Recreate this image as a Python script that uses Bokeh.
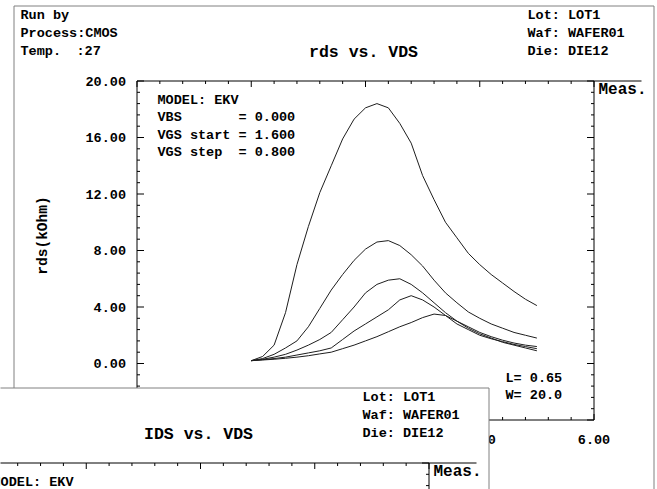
import math
import numpy as np
from bokeh.plotting import figure
from bokeh.models import Range1d
from bokeh.core.properties import value
from bokeh.embed import file_html
from bokeh.resources import INLINE

# ---------------- data ----------------
vds = [1.50, 1.65, 1.80, 1.95, 2.10, 2.25, 2.40, 2.55, 2.70, 2.85, 3.00, 3.15, 3.30,
       3.45, 3.60, 3.75, 3.90, 4.05, 4.20, 4.35, 4.50, 4.65, 4.80, 4.95, 5.10, 5.25]
rds_vgs_1p6 = [0.2, 0.5, 1.3, 3.6, 7.0, 9.7, 12.1, 14.0, 15.9, 17.3, 18.1, 18.4, 18.1,
               17.0, 15.6, 13.3, 11.6, 10.0, 8.9, 7.8, 7.0, 6.3, 5.7, 5.1, 4.55, 4.1]
rds_vgs_2p4 = [0.2, 0.35, 0.65, 1.1, 1.6, 2.6, 3.9, 5.2, 6.3, 7.3, 8.1, 8.6, 8.7,
               8.35, 7.7, 6.9, 5.9, 5.0, 4.3, 3.65, 3.2, 2.8, 2.5, 2.2, 2.0, 1.8]
rds_vgs_3p2 = [0.2, 0.3, 0.45, 0.65, 0.95, 1.3, 1.7, 2.2, 3.1, 4.0, 5.0, 5.6, 5.9,
               6.0, 5.6, 5.0, 4.3, 3.6, 3.0, 2.6, 2.2, 1.9, 1.65, 1.45, 1.3, 1.2]
rds_vgs_4p0 = [0.2, 0.27, 0.35, 0.45, 0.6, 0.75, 0.9, 1.1, 1.7, 2.3, 2.8, 3.3, 3.8,
               4.5, 4.8, 4.5, 4.0, 3.4, 2.8, 2.4, 2.0, 1.75, 1.55, 1.35, 1.2, 1.05]
rds_vgs_4p8 = [0.2, 0.25, 0.3, 0.37, 0.45, 0.55, 0.68, 0.8, 1.05, 1.3, 1.6, 1.9, 2.25,
               2.6, 2.9, 3.25, 3.5, 3.4, 3.0, 2.5, 2.1, 1.8, 1.5, 1.3, 1.1, 0.9]
series = [rds_vgs_1p6, rds_vgs_2p4, rds_vgs_3p2, rds_vgs_4p0, rds_vgs_4p8]

x_range = (0.0, 6.0)
y_range = (-4.0, 20.0)
x_tick_values = [0.0, 1.5, 3.0, 4.5, 6.0]
x_tick_labels = ["0.00", "1.50", "3.00", "4.50", "6.00"]
y_tick_values = [-4.0, 0.0, 4.0, 8.0, 12.0, 16.0, 20.0]
y_tick_labels = ["-4.00", "0.00", "4.00", "8.00", "12.00", "16.00", "20.00"]
minor_per_major = 5

header_left = ["Run by", "Process:CMOS"]
temp_label, temp_value = "Temp.", ":27"
header_right = ["Lot: LOT1", "Waf: WAFER01", "Die: DIE12"]
title_main = "rds vs. VDS"
title_second = "IDS vs. VDS"
y_label = "rds(kOhm)"
model_rows = [("MODEL: EKV", ""), ("VBS", "= 0.000"), ("VGS start", "= 1.600"), ("VGS step", "= 0.800")]
geom_rows = ["L= 0.65", "W= 20.0"]
legend_text = "Meas."

# ---------------- layout (picture pixel coordinates) ----------------
FONT = "Liberation Mono"
W, H = 657, 489
PX0, PX1, PY0, PY1 = 0, W, 0, H
FL, FR, FT, FB = 136.5, 593.5, 80.5, 419.5        # plot frame of the main window
SX, SY = -165, 382                                 # offset of the second window
GREY = "#808080"

p = figure(width=W, height=H, x_range=Range1d(PX0, PX1), y_range=Range1d(PY1, PY0),
           output_backend="svg", toolbar_location=None,
           x_axis_location=None, y_axis_location=None, min_border=0)
p.grid.grid_line_color = None
p.outline_line_color = None
p.background_fill_color = "white"
p.border_fill_color = "white"

# data scales of the main chart, mapped onto its frame
xu = (x_range[1] - x_range[0]) / (FR - FL)     # data units per pixel
yu = (y_range[1] - y_range[0]) / (FB - FT)
p.extra_x_ranges = {"vds": Range1d(x_range[0] - (FL - PX0) * xu, x_range[1] + (PX1 - FR) * xu)}
p.extra_y_ranges = {"rds": Range1d(y_range[0] - (PY1 - FB) * yu, y_range[1] + (FT - PY0) * yu)}
D = dict(x_range_name="vds", y_range_name="rds")


def text(xs, ys, ts, size="13.5px", align="left", angle=0.0, **kw):
    p.text(x=xs, y=ys, text=ts, text_font=value(FONT), text_font_style="bold",
           text_font_size=value(size), text_color="black", text_align=align,
           text_baseline="middle", angle=angle, **kw)


def seg(x0, y0, x1, y1, color="black", **kw):
    p.segment(x0=x0, y0=y0, x1=x1, y1=y1, line_color=color, line_width=1, **kw)

# ---------- main window ----------
p.quad(left=[13.5], right=[653.5], top=[5.5], bottom=[PY1 + 50],
       fill_color=None, line_color=GREY, line_width=1)

# frame
p.quad(left=[x_range[0]], right=[x_range[1]], bottom=[y_range[0]], top=[y_range[1]],
       fill_color=None, line_color="black", line_width=1, **D)

# ticks (inward)
xstep = (x_tick_values[1] - x_tick_values[0]) / minor_per_major
ystep = (y_tick_values[1] - y_tick_values[0]) / minor_per_major
x_minor = [v for v in np.arange(x_range[0], x_range[1] + 1e-9, xstep)
           if min(abs(v - t) for t in x_tick_values) > 1e-6]
y_minor = [v for v in np.arange(y_range[0], y_range[1] + 1e-9, ystep)
           if min(abs(v - t) for t in y_tick_values) > 1e-6]
for vals, ln in ((x_tick_values, 6), (x_minor, 3)):
    n = len(vals)
    seg(vals, [y_range[1]] * n, vals, [y_range[1] - ln * yu] * n, **D)
    seg(vals, [y_range[0]] * n, vals, [y_range[0] + ln * yu] * n, **D)
for vals, ln in ((y_tick_values, 7), (y_minor, 3)):
    n = len(vals)
    seg([x_range[0]] * n, vals, [x_range[0] + ln * xu] * n, vals, **D)
    seg([x_range[1]] * n, vals, [x_range[1] - ln * xu] * n, vals, **D)

# tick labels
text([FL - 11] * len(y_tick_values), y_tick_values, y_tick_labels, align="right",
     y_range_name="rds")
text(x_tick_values, [FB + 19] * len(x_tick_values), x_tick_labels, align="center",
     x_range_name="vds")

# curves
for s in series:
    p.line(vds, s, line_color="#1e1e1e", line_width=1, **D)

# texts
text([20, 20], [15, 33], header_left)
text([20], [51], [temp_label])
text([76], [51], [temp_value])
text([527] * 3, [15, 33, 51], header_right)
text([363], [52], [title_main], size="16.5px", align="center")
text([42], [235], [y_label], size="14.5px", align="center", angle=math.pi / 2)
for i, (a, b) in enumerate(model_rows):
    text([157], [100 + i * 17.4], [a])
    if b:
        text([238], [100 + i * 17.4], [b])
text([505, 505], [378, 395], geom_rows)
seg([FR], [FT], [641], [FT])
text([598], [89], [legend_text], size="16px")

# ---------- second (overlapping) window: IDS vs. VDS ----------
p.quad(left=[13.5 + SX], right=[653.5 + SX], top=[5.5 + SY], bottom=[PY1 + 50],
       fill_color="white", fill_alpha=1.0, line_color=GREY, line_width=1)
text([527 + SX] * 3, [15 + SY, 33 + SY, 51 + SY], header_right)
text([363 + SX], [52 + SY], [title_second], size="16.5px", align="center")

fl2, fr2, ft2 = FL + SX, FR + SX, FT + SY
seg([fl2, fr2, fr2], [ft2, ft2, ft2], [fr2, fr2, 641 + SX], [ft2, PY1 + 50, ft2])
xt2 = [fl2 + (v - x_range[0]) / xu for v in x_tick_values]
xm2 = [fl2 + (v - x_range[0]) / xu for v in x_minor]
seg(xt2, [ft2] * len(xt2), xt2, [ft2 + 6] * len(xt2))
seg(xm2, [ft2] * len(xm2), xm2, [ft2 + 3] * len(xm2))
yt2 = [ft2 + (y_range[1] - v) / yu for v in y_tick_values]
ym2 = [ft2 + (y_range[1] - v) / yu for v in y_minor]
seg([fr2] * len(yt2), yt2, [fr2 - 7] * len(yt2), yt2)
seg([fr2] * len(ym2), ym2, [fr2 - 3] * len(ym2), ym2)
text([598 + SX], [89 + SY], [legend_text], size="16px")
text([157 + SX], [100 + SY], [model_rows[0][0]])

open("out.html", "w").write(file_html(p, INLINE))
